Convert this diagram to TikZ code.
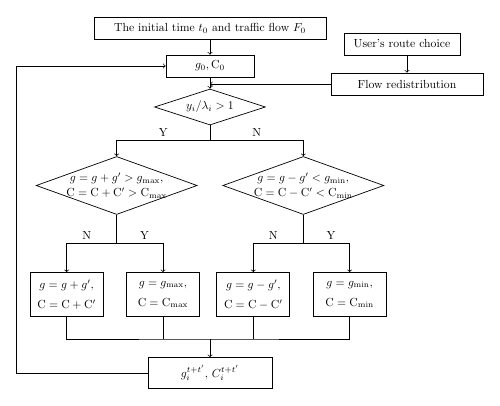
\documentclass[tikz,border=0pt]{standalone}
\usetikzlibrary{shapes.geometric,positioning}
\begin{document}
\begin{tikzpicture}[>=to, on grid, auto, line width=0.6pt,
    box/.style={draw, rectangle, minimum height=6.6mm, inner sep=0pt, align=center},
    tall/.style={box, minimum width=21.9mm, minimum height=13.2mm},
    dec/.style={draw, diamond, inner sep=0pt, label={[align=center]center:#1}},
    wide/.style={dec={#1}, minimum width=48.3mm, minimum height=17.4mm}]
    \useasboundingbox (-63mm,8.4mm) rectangle (87mm,-113.4mm);

    \node[box, minimum width=69.6mm] (init) {The initial time $t_0$ and traffic flow $F_0$};
    \node[box, minimum width=26.4mm] (g0) [below=11.4mm of init] {$g_0, \mathrm{C}_0$};
    \node[dec={$y_i/\lambda_i > 1$}, minimum width=33.3mm, minimum height=10.8mm] (cond) [below=12.3mm of g0] {};
    \node[box, minimum width=45.6mm] (flow) [below right=5.4mm and 59.1mm of g0] {Flow redistribution};
    \node[box, minimum width=34.8mm] (user) [above=12mm of flow, xshift=-1.5mm] {User's route choice};

    \node[wide={$g = g + g' > g_{\max},$\\[1pt]$\mathrm{C} = \mathrm{C} + \mathrm{C}' > \mathrm{C}_{\max}$}] (inc) [below left=23.55mm and 28mm of cond] {};
    \node[wide={$g = g - g' < g_{\min},$\\[1pt]$\mathrm{C} = \mathrm{C} - \mathrm{C}' < \mathrm{C}_{\min}$}] (dcr) [below right=23.55mm and 28mm of cond] {};

    \node[tall] (n1) [below left=32.7mm and 15mm of inc] {$g = g + g',$\\[5pt]$\mathrm{C} = \mathrm{C} + \mathrm{C}'$};
    \node[tall] (n2) [below right=32.7mm and 13.9mm of inc] {$g = g_{\max},$\\[5pt]$\mathrm{C} = \mathrm{C}_{\max}$};
    \node[tall] (n3) [below left=32.7mm and 15mm of dcr] {$g = g - g',$\\[5pt]$\mathrm{C} = \mathrm{C} - \mathrm{C}'$};
    \node[tall] (n4) [below right=32.7mm and 13.9mm of dcr] {$g = g_{\min},$\\[5pt]$\mathrm{C} = \mathrm{C}_{\min}$};

    \node[box, minimum width=37.2mm, minimum height=9.3mm] (fin) [below=79.8mm of cond] {$g_i^{t+t'},\, C_i^{t+t'}$};
    \coordinate[above=10.2mm of fin] (join);

    \path[->]
    (init) edge (g0)
    (g0) edge (cond)
    (user.south -| flow.north) edge (flow.north)
    (flow) edge (flow -| g0)
    (join) edge (fin);

    \draw[->] (cond.south) -- ++(0,-4.5mm) -| node[pos=0.25, above] {Y} (inc.north);
    \draw[->] (cond.south) -- ++(0,-4.5mm) -| node[pos=0.25, above] {N} (dcr.north);
    \draw[->] (inc.south) -- ++(0,-8.6mm) -| node[pos=0.3, above] {N} (n1.north);
    \draw[->] (inc.south) -- ++(0,-8.6mm) -| node[pos=0.3, above] {Y} (n2.north);
    \draw[->] (dcr.south) -- ++(0,-8.6mm) -| node[pos=0.3, above] {N} (n3.north);
    \draw[->] (dcr.south) -- ++(0,-8.6mm) -| node[pos=0.3, above] {Y} (n4.north);

    \draw (n1.south) |- (join) -| (n4.south);
    \draw (n2.south) -- (n2.south |- join);
    \draw (n3.south) -- (n3.south |- join);
    \draw[->] (fin.west) -- ++(-39.3mm,0) |- (g0.west);
\end{tikzpicture}
\end{document}
